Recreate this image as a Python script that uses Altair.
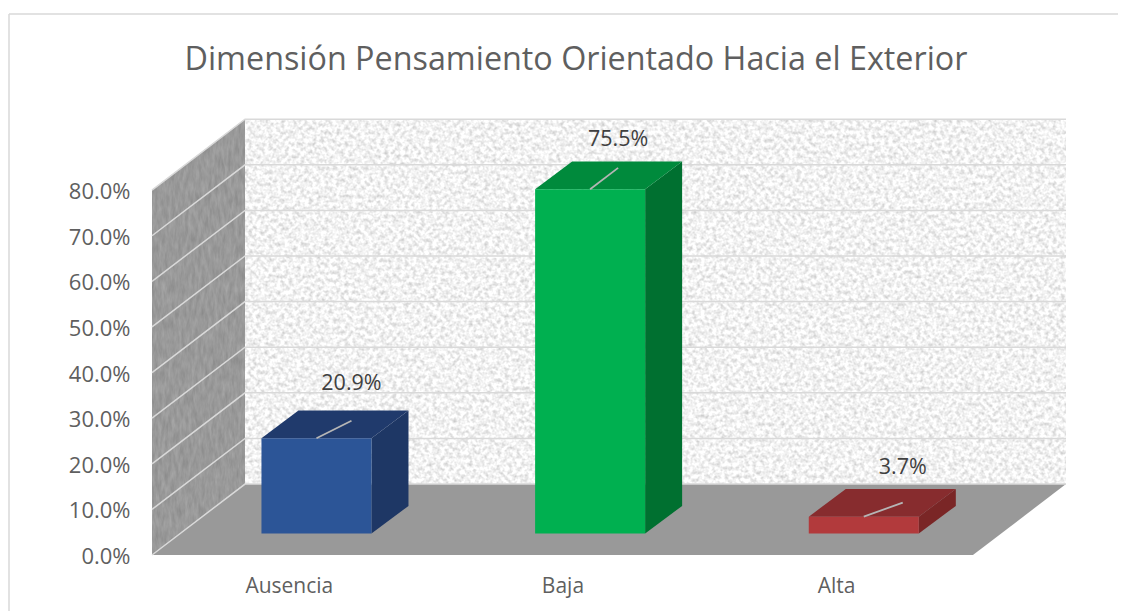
import base64
import altair as alt
import pandas as pd

# ---- data ----
categories = ["Ausencia", "Baja", "Alta"]
values = [20.9, 75.5, 3.7]
value_labels = ["20.9%", "75.5%", "3.7%"]
y_ticks = [0, 10, 20, 30, 40, 50, 60, 70, 80]
front_colors = ["#2c5597", "#00b050", "#b23a3c"]
side_colors = ["#1e3765", "#007030", "#7a2626"]
top_colors = ["#203a6c", "#008a3c", "#872c2e"]
title = "Dimensión Pensamiento Orientado Hacia el Exterior"

# ---- 3D geometry, in units of the two scales ----
PX_X = 273.6      # pixels per category band
PX_Y = 4.5625     # pixels per percentage point
WALL_DX = 0.34
WALL_DY = 15.56
Y_TOP = 95.6
X_TOP = 3.34
BASE = 21.5 / PX_Y
BAR_L = 0.400
BAR_W = 0.402
BAR_DX = 37 / PX_X
BAR_DY = 27.6 / PX_Y
leader_px = [(35, 17.5), (28, 21.3), (39, 14)]
label_px = [(35, 54), (28, 49.5), (39, 48.5)]

FONT = "Open Sans"
XS = alt.Scale(domain=[0, X_TOP], nice=False, zero=False)
YS = alt.Scale(domain=[0, Y_TOP], nice=False, zero=False)
label_expr = "['" + "','".join(categories) + "'][floor(datum.value)]"
x_axis = alt.Axis(
    values=[0.5, 1.5, 2.5],
    labelExpr=label_expr,
    domain=False,
    ticks=False,
    grid=False,
    labelPadding=20,
    labelFont=FONT,
    labelFontSize=21,
    labelColor="#5f5f5f",
)
y_axis = alt.Axis(
    values=y_ticks,
    labelExpr="format(datum.value / 100, '.1%')",
    domain=False,
    ticks=False,
    grid=False,
    labelPadding=22,
    labelOffset=1.5,
    labelFont=FONT,
    labelFontSize=22,
    labelColor="#5f5f5f",
)
X = alt.X("x:Q", scale=XS, title=None, axis=x_axis)
Y = alt.Y("y:Q", scale=YS, title=None, axis=y_axis)
X2 = alt.X2("x2:Q")
Y2 = alt.Y2("y2:Q")
PLOT_W = 914
PLOT_H = 436


def texture(w, h, freq, slope, intercept, blur, clip=""):
    clip_def = f'<clipPath id="c"><polygon points="{clip}"/></clipPath>' if clip else ""
    clip_attr = 'clip-path="url(#c)"' if clip else ""
    svg = (
        f'<svg xmlns="http://www.w3.org/2000/svg" width="{w}" height="{h}"><defs>'
        f'<filter id="n" x="0" y="0" width="100%" height="100%" color-interpolation-filters="sRGB">'
        f'<feTurbulence type="fractalNoise" baseFrequency="{freq}" numOctaves="3" seed="7"/>'
        f'<feColorMatrix type="matrix" values="{slope} 0 0 0 {intercept} {slope} 0 0 0 {intercept} '
        f'{slope} 0 0 0 {intercept} 0 0 0 0 1"/><feGaussianBlur stdDeviation="{blur}"/></filter>{clip_def}</defs>'
        f'<g {clip_attr}><rect width="{w}" height="{h}" filter="url(#n)"/></g></svg>'
    )
    return "data:image/svg+xml;base64," + base64.b64encode(svg.encode()).decode()


layers = []

# back wall texture
back = pd.DataFrame({"x": [WALL_DX], "y": [Y_TOP], "u": [texture(821, 365, 0.25, 0.38, 0.76, 0.6)]})
layers.append(
    alt.Chart(back)
    .mark_image(width=821, height=365, align="left", baseline="top", aspect=False)
    .encode(x=X, y=Y, url="u:N")
)
# left wall texture
left = pd.DataFrame({"x": [0.0], "y": [Y_TOP], "u": [texture(93, 436, "0.3 0.08", 0.14, 0.53, 0.4, "0,71 93,0 93,365 0,436")]})
layers.append(
    alt.Chart(left)
    .mark_image(width=93, height=436, align="left", baseline="top", aspect=False)
    .encode(x=X, y=Y, url="u:N")
)
# floor
floor = pd.DataFrame({"y": [0, WALL_DY], "x": [0, WALL_DX], "x2": [3.0, X_TOP]})
layers.append(
    alt.Chart(floor).mark_area(orient="horizontal", color="#999999").encode(x=X, x2=X2, y=Y)
)

# gridlines running along left wall and back wall
grid_rows = []
for k in y_ticks:
    grid_rows += [
        {"k": k, "o": 0, "x": 0, "y": k},
        {"k": k, "o": 1, "x": WALL_DX, "y": k + WALL_DY},
        {"k": k, "o": 2, "x": X_TOP, "y": k + WALL_DY},
    ]
layers.append(
    alt.Chart(pd.DataFrame(grid_rows))
    .mark_line(color="#d9d9d9", strokeWidth=1.5)
    .encode(x=X, y=Y, detail="k:N", order="o:Q")
)

# bars
front_rows, side_rows, top_rows, leader_rows, label_rows = [], [], [], [], []
for i, v in enumerate(values):
    l = i + BAR_L
    r = l + BAR_W
    c = (l + r) / 2
    top = BASE + v
    front_rows.append({"x": l, "x2": r, "y": BASE, "y2": top, "c": front_colors[i]})
    side_rows += [
        {"x": r, "y": BASE, "y2": top, "c": side_colors[i]},
        {"x": r + BAR_DX, "y": BASE + BAR_DY, "y2": top + BAR_DY, "c": side_colors[i]},
    ]
    top_rows += [
        {"y": top, "x": l, "x2": r, "c": top_colors[i]},
        {"y": top + BAR_DY, "x": l + BAR_DX, "x2": r + BAR_DX, "c": top_colors[i]},
    ]
    ldx, ldy = leader_px[i]
    leader_rows += [
        {"b": i, "o": 0, "x": c, "y": top},
        {"b": i, "o": 1, "x": c + ldx / PX_X, "y": top + ldy / PX_Y},
    ]
    tdx, tdy = label_px[i]
    label_rows.append({"x": c + tdx / PX_X, "y": top + tdy / PX_Y, "t": value_labels[i]})

color = alt.Color("c:N", scale=None, legend=None)
layers.append(
    alt.Chart(pd.DataFrame(side_rows)).mark_area(orient="vertical").encode(x=X, y=Y, y2=Y2, color=color)
)
layers.append(
    alt.Chart(pd.DataFrame(top_rows)).mark_area(orient="horizontal").encode(x=X, x2=X2, y=Y, color=color)
)
layers.append(
    alt.Chart(pd.DataFrame(front_rows)).mark_rect().encode(x=X, x2=X2, y=Y, y2=Y2, color=color)
)
layers.append(
    alt.Chart(pd.DataFrame(leader_rows))
    .mark_line(color="#b5b5b5", strokeWidth=1.8)
    .encode(x=X, y=Y, detail="b:N", order="o:Q")
)
layers.append(
    alt.Chart(pd.DataFrame(label_rows))
    .mark_text(font=FONT, fontSize=21.5, color="#404040", baseline="middle", align="center")
    .encode(x=X, y=Y, text="t:N")
)

# outer chart frame
frame_top = alt.Chart(pd.DataFrame({"a": [0]})).mark_rule(color="#d9d9d9", strokeWidth=1.5).encode(
    x=alt.value(-143), x2=alt.value(PLOT_W + 52), y=alt.value(-105)
)
frame_left = alt.Chart(pd.DataFrame({"a": [0]})).mark_rule(color="#d9d9d9", strokeWidth=1.5).encode(
    x=alt.value(-143), y=alt.value(-105), y2=alt.value(PLOT_H + 56)
)
layers += [frame_top, frame_left]

chart = (
    alt.layer(*layers)
    .properties(
        width=PLOT_W,
        height=PLOT_H,
        padding={"left": 144, "top": 111, "right": 57, "bottom": 56},
        autosize=alt.AutoSizeParams(type="none"),
        title=alt.TitleParams(
            title, font=FONT, fontSize=32.3, fontWeight="normal", color="#5f5f5f",
            anchor="middle", dx=-33, offset=0, dy=89, baseline="alphabetic",
        ),
    )
    .configure_view(stroke=None)
)
chart.save("out.html", embed_options={"renderer": "svg", "actions": False})
